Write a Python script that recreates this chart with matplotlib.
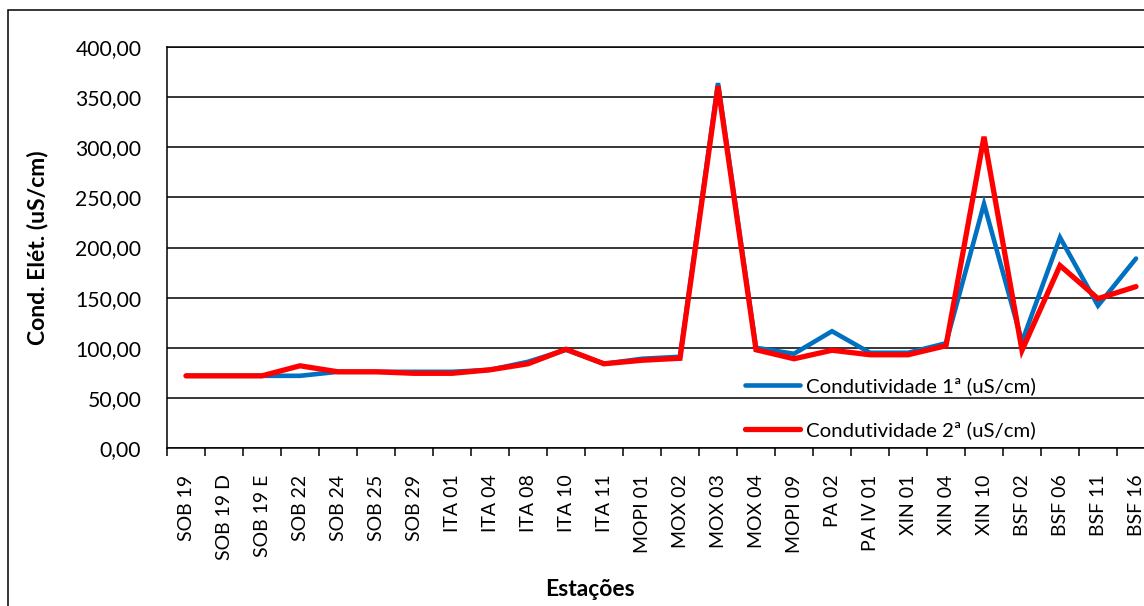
import matplotlib
matplotlib.use("Agg")
import matplotlib.pyplot as plt
from matplotlib.patches import Rectangle
from matplotlib.ticker import FuncFormatter, FixedLocator
import numpy as np

plt.rcParams['font.family'] = ['Lato', 'DejaVu Sans']

estacoes = ["SOB 19", "SOB 19 D", "SOB 19 E", "SOB 22", "SOB 24", "SOB 25", "SOB 29",
            "ITA 01", "ITA 04", "ITA 08", "ITA 10", "ITA 11", "MOPI 01", "MOX 02",
            "MOX 03", "MOX 04", "MOPI 09", "PA 02", "PA IV 01", "XIN 01", "XIN 04",
            "XIN 10", "BSF 02", "BSF 06", "BSF 11", "BSF 16"]

cond_1 = [72, 72, 72, 72, 76, 76, 76, 76, 78, 86, 98, 84, 89, 91,
          364, 100, 94, 116.5, 95, 95, 104.5, 243.5, 106, 210, 142, 189]
cond_2 = [72, 72, 72, 82, 76, 76, 74.5, 74.5, 78, 84, 98.5, 84, 87.5, 89.5,
          361, 98, 89, 97.5, 93, 93, 102, 310.5, 97.5, 182, 149, 161]

serie_labels = ["Condutividade 1ª (uS/cm)", "Condutividade 2ª (uS/cm)"]
y_ticks = [0, 50, 100, 150, 200, 250, 300, 350, 400]

W, H = 1144, 606
fig = plt.figure(figsize=(W / 100, H / 100), dpi=100)

# chart frame (only its left and top edges fall inside the image)
fig.patches.append(Rectangle((8 / W, -0.2), 1.2, 1.2 - 10 / H, transform=fig.transFigure,
                             fill=False, edgecolor="black", linewidth=1.1))

ax = fig.add_axes([167 / W, 1 - 448 / H, (1155 - 167) / W, (448 - 47) / H])

x = np.arange(len(estacoes))
ax.plot(x, cond_1, color="#0070C0", linewidth=3.3, solid_capstyle="round",
        solid_joinstyle="miter", label=serie_labels[0], zorder=3)
ax.plot(x, cond_2, color="#FF0000", linewidth=3.8, solid_capstyle="round",
        solid_joinstyle="miter", label=serie_labels[1], zorder=4)

ax.set_xlim(-0.5, len(estacoes) - 0.5)
ax.set_ylim(0, 400)
ax.set_yticks(y_ticks)
ax.yaxis.set_major_formatter(FuncFormatter(lambda v, p: f"{v:.2f}".replace(".", ",")))
ax.yaxis.grid(True, color="black", linewidth=1.1)
ax.set_axisbelow(True)

ax.set_xticks(x)
ax.set_xticklabels(estacoes, rotation=90, va="top", ha="center")
ax.xaxis.set_minor_locator(FixedLocator(np.arange(-0.5, len(estacoes), 1.0)))
ax.tick_params(axis="x", which="major", length=0, pad=19, labelsize=14)
ax.tick_params(axis="x", which="minor", length=5.5, width=1.1, color="black")
ax.tick_params(axis="y", which="major", length=0, pad=18.5, labelsize=15.2)

ax.spines["right"].set_visible(False)
for side in ("left", "bottom", "top"):
    ax.spines[side].set_linewidth(1.1)
    ax.spines[side].set_color("black")

fig.text(38 / W, 1 - 248 / H, "Cond. Elét. (uS/cm)", rotation=90, ha="center",
         va="center", fontsize=16.5, fontweight="bold")
fig.text(590 / W, 1 - 589 / H, "Estações", ha="center", va="center",
         fontsize=16.5, fontweight="bold")

fig.legend(loc="center left", bbox_to_anchor=(745 / W, 1 - 408 / H), frameon=False,
           fontsize=14.7, handlelength=2.7, handletextpad=0.3, labelspacing=1.25,
           borderpad=0, borderaxespad=0)

fig.savefig("out.png", dpi=100)
